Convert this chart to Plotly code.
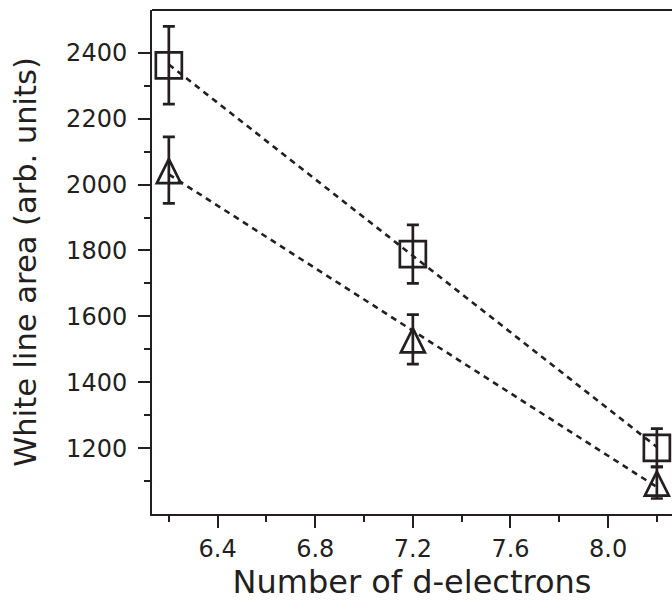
import numpy as np
import plotly.graph_objects as go

# ---- data ----
d_electrons = [6.2, 7.2, 8.2]
square_area = [2362, 1789, 1201]
square_err = [118, 89, 58]
triangle_area = [2044, 1530, 1095]
triangle_err = [101, 75, 48]

x_tickvals = [6.4, 6.8, 7.2, 7.6, 8.0]
x_ticktext = ["6.4", "6.8", "7.2", "7.6", "8.0"]
x_minorvals = [6.2, 6.6, 7.0, 7.4, 7.8, 8.2]
y_tickvals = [1200, 1400, 1600, 1800, 2000, 2200, 2400]
y_ticktext = ["1200", "1400", "1600", "1800", "2000", "2200", "2400"]
y_minorvals = [1100, 1300, 1500, 1700, 1900, 2100, 2300]

x_title = "Number of d-electrons"
y_title = "White line area (arb. units)"

INK = "#231f20"
FONT = "DejaVu Sans"

fig = go.Figure()

# linear fits (dashed lines)
xs = np.array([min(d_electrons), max(d_electrons)])
for yvals in (square_area, triangle_area):
    k, b = np.polyfit(d_electrons, yvals, 1)
    fig.add_trace(go.Scatter(
        x=xs, y=k * xs + b, mode="lines",
        line=dict(color=INK, width=2.6, dash="6px,5px"),
        hoverinfo="skip", showlegend=False,
    ))

fig.add_trace(go.Scatter(
    x=d_electrons, y=square_area, mode="markers", name="square",
    marker=dict(symbol="square-open", size=26, color=INK,
                line=dict(width=2.7, color=INK)),
    error_y=dict(type="data", array=square_err, visible=True,
                 color=INK, thickness=2.7, width=6),
    showlegend=False,
))

fig.add_trace(go.Scatter(
    x=d_electrons, y=triangle_area, mode="markers", name="triangle",
    marker=dict(symbol="arrow-down-open", size=24, angle=180, standoff=11,
                color=INK, line=dict(width=2.7, color=INK)),
    error_y=dict(type="data", array=triangle_err, visible=True,
                 color=INK, thickness=2.7, width=6),
    showlegend=False,
))

axis_common = dict(
    showline=True, linewidth=2, linecolor=INK,
    ticks="outside", ticklen=12, tickwidth=2, tickcolor=INK,
    showgrid=False, zeroline=False,
    tickfont=dict(family=FONT, size=24, color=INK),
)

fig.update_layout(
    width=672, height=604,
    margin=dict(l=152, r=0, t=10, b=90),
    paper_bgcolor="white", plot_bgcolor="white",
    font=dict(family=FONT, color=INK),
    xaxis=dict(
        range=[6.131, 8.262],
        tickmode="array", tickvals=x_tickvals, ticktext=x_ticktext,
        minor=dict(tickmode="array", tickvals=x_minorvals, ticks="outside",
                   ticklen=6, tickwidth=2, tickcolor=INK),
        title=dict(text=x_title, font=dict(family=FONT, size=32, color=INK),
                   standoff=8),
        **axis_common,
    ),
    yaxis=dict(
        range=[1000, 2530],
        tickmode="array", tickvals=y_tickvals, ticktext=y_ticktext,
        ticklabelstandoff=6,
        minor=dict(tickmode="array", tickvals=y_minorvals, ticks="outside",
                   ticklen=6, tickwidth=2, tickcolor=INK),
        title=dict(text=y_title, font=dict(family=FONT, size=30.5, color=INK),
                   standoff=20),
        **axis_common,
    ),
    shapes=[dict(type="line", xref="paper", yref="paper", x0=0, x1=1,
                 y0=1, y1=1, line=dict(color=INK, width=2))],
)

fig.write_html("out.html")
